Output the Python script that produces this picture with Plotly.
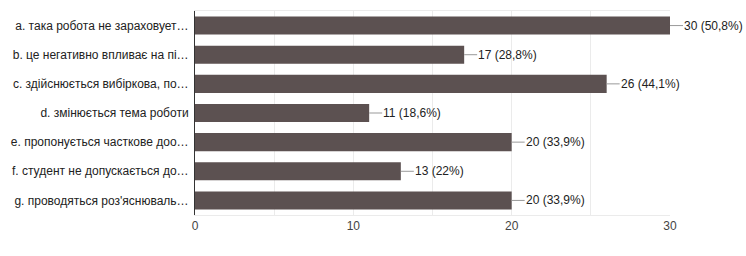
import plotly.graph_objects as go

categories = [
    "a. така робота не зараховует…",
    "b. це негативно впливає на пі…",
    "c. здійснюється вибіркова, по…",
    "d. змінюється тема роботи",
    "e. пропонується часткове доо…",
    "f. студент не допускається до…",
    "g. проводяться роз'яснюваль…",
]
counts = [30, 17, 26, 11, 20, 13, 20]
percents = ["50,8%", "28,8%", "44,1%", "18,6%", "33,9%", "22%", "33,9%"]
x_ticks = [0, 10, 20, 30]

BAR = "#5c5151"

fig = go.Figure()
fig.add_trace(go.Bar(
    x=counts, y=categories, orientation="h",
    marker=dict(color=BAR, line=dict(width=0)),
    hoverinfo="skip",
))

for c, v, p in zip(categories, counts, percents):
    fig.add_annotation(
        x=v, y=c, xref="x", yref="y",
        text=f"{v} ({p})",
        showarrow=True, arrowhead=0, arrowwidth=1, arrowcolor="#999999",
        ax=13, ay=0, xanchor="left", standoff=0, startstandoff=0,
        font=dict(family="Liberation Sans, Arial", size=12, color="#222222"),
        borderpad=0,
    )

fig.update_layout(
    width=746, height=256,
    margin=dict(l=195, r=76, t=11, b=41),
    paper_bgcolor="white", plot_bgcolor="white",
    bargap=0.38,
    showlegend=False,
    font=dict(family="Liberation Sans, Arial", size=12, color="#222222"),
)
fig.update_xaxes(
    range=[0, 30], tickvals=x_ticks, ticks="", showgrid=True,
    gridcolor="#ebebeb", gridwidth=1,
    minor=dict(dtick=5, showgrid=True, gridcolor="#ebebeb", gridwidth=1),
    showline=True, linecolor="#ebebeb", linewidth=1, mirror=True,
    zeroline=False, tickfont=dict(color="#444444", size=12),
    fixedrange=True,
)
fig.update_yaxes(
    autorange="reversed", showline=True, linecolor="#333333", linewidth=1,
    ticks="", ticklabelstandoff=3, showgrid=False,
    tickfont=dict(color="#222222", size=12), fixedrange=True,
)

fig.write_html("out.html")
